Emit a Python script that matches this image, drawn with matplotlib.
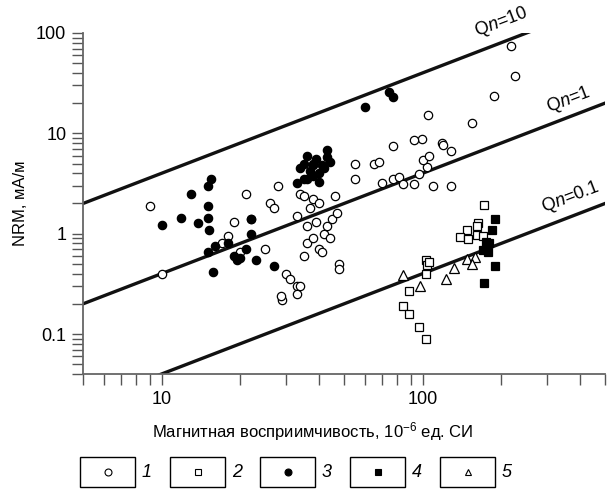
import numpy as np
import matplotlib
matplotlib.use('Agg')
import matplotlib.pyplot as plt
from matplotlib.patches import Rectangle
from matplotlib.ticker import LogLocator, NullFormatter, FixedLocator, FixedFormatter

plt.rcParams['font.family'] = ['Liberation Sans', 'DejaVu Sans']
plt.rcParams['mathtext.fontset'] = 'custom'
plt.rcParams['mathtext.rm'] = 'Liberation Sans'
plt.rcParams['mathtext.it'] = 'Liberation Sans:italic'

# magnetic susceptibility (10^-6 SI) and NRM (mA/m) for each group
k1 = [9.0, 10.0, 17, 18, 19, 20, 21, 22, 25, 26, 27, 28, 29, 30, 31, 33, 33, 34,
      35, 36, 37, 38, 39, 40, 41, 42, 43, 44, 45, 46, 47, 48, 48, 33, 34, 35, 36,
      38, 40, 55, 55, 65, 68, 70, 77, 81, 84, 93, 110, 128, 97, 104, 100, 106,
      128, 119, 120, 99.7, 92.6, 77.3, 155, 105, 188, 226, 219, 28.7]
n1 = [1.9, 0.4, 0.8, 0.95, 1.3, 0.65, 2.5, 1.4, 0.7, 2.0, 1.8, 3.0, 0.22, 0.4,
      0.35, 0.3, 0.25, 0.3, 0.6, 0.8, 1.8, 0.9, 1.3, 0.7, 0.65, 1.0, 1.2, 0.9,
      1.4, 2.4, 1.6, 0.5, 0.45, 1.5, 2.5, 2.4, 1.2, 2.2, 2.0, 5.0, 3.5, 5.0, 5.2,
      3.2, 3.5, 3.7, 3.1, 3.1, 3.0, 3.0, 3.95, 4.6, 5.4, 5.9, 6.7, 8.0, 7.6, 8.7,
      8.6, 7.4, 12.6, 15.3, 23.4, 37.5, 74, 0.24]

k2 = [172, 163, 161, 148, 139, 149, 161, 171, 103, 104, 106, 103, 88.5, 84, 89,
      96.5, 103]
n2 = [1.92, 1.29, 1.19, 1.09, 0.93, 0.88, 0.97, 0.95, 0.55, 0.49, 0.52, 0.40,
      0.27, 0.19, 0.16, 0.118, 0.09]

k3 = [10, 11.9, 13, 13.8, 15, 15.5, 15, 15, 15.2, 15, 15.8, 16, 18, 19, 19.5, 20,
      21, 22, 22, 23, 27, 33, 34, 35, 36, 37, 38, 38, 39, 40, 42, 43, 43, 44, 36,
      40, 35, 38, 41, 60, 74.6, 77]
n3 = [1.22, 1.45, 2.5, 1.27, 3.0, 3.5, 1.9, 1.45, 1.1, 0.65, 0.42, 0.75, 0.8,
      0.6, 0.55, 0.57, 0.7, 1.0, 1.4, 0.55, 0.48, 3.2, 4.5, 5.0, 3.5, 4.2, 4.8,
      3.8, 5.5, 4.0, 4.5, 6.8, 5.8, 5.2, 6.0, 3.3, 3.5, 5.0, 4.8, 18.5, 25.9, 23.1]

k4 = [189, 185, 175, 180, 171, 178, 189, 172]
n4 = [1.39, 1.1, 0.83, 0.80, 0.69, 0.66, 0.48, 0.32]

k5 = [148, 158.5, 154, 131.5, 123, 98, 84.5]
n5 = [0.557, 0.59, 0.50, 0.46, 0.35, 0.30, 0.39]

qn_values = [10, 1, 0.1]
qn_labels = ['Q$\\mathit{n}$=10', 'Q$\\mathit{n}$=1', 'Q$\\mathit{n}$=0.1']
legend_labels = ['1', '2', '3', '4', '5']

fig = plt.figure(figsize=(6.11, 4.9), dpi=100)
ax = fig.add_axes([83 / 611, 1 - 374 / 490, 522 / 611, 341 / 490])

# Qn = NRM / (k * H), H ~ 40 A/m
k_line = np.logspace(np.log10(5), np.log10(500), 50)
for qn in qn_values:
    ax.plot(k_line, qn * 0.04 * k_line, '-', color='#111111', lw=2.4, zorder=2)

ms = 6
mew = 0.9
ax.plot(k1, n1, 'o', ms=ms, mfc='white', mec='black', mew=mew, zorder=3)
ax.plot(k2, n2, 's', ms=ms, mfc='white', mec='black', mew=mew, zorder=3)
ax.plot(k3, n3, 'o', ms=ms, mfc='black', mec='black', mew=mew, zorder=3)
ax.plot(k4, n4, 's', ms=ms, mfc='black', mec='black', mew=mew, zorder=3)
ax.plot(k5, n5, '^', ms=ms + 1, mfc='white', mec='black', mew=mew, zorder=3)

ax.set_xscale('log')
ax.set_yscale('log')
ax.set_xlim(5, 500)
ax.set_ylim(0.04, 100)

ax.xaxis.set_major_locator(FixedLocator([10, 100]))
ax.xaxis.set_major_formatter(FixedFormatter(['10', '100']))
ax.xaxis.set_minor_locator(LogLocator(base=10, subs=np.arange(2, 10)))
ax.xaxis.set_minor_formatter(NullFormatter())
ax.yaxis.set_major_locator(FixedLocator([0.1, 1, 10, 100]))
ax.yaxis.set_major_formatter(FixedFormatter(['0.1', '1', '10', '100']))
ax.yaxis.set_minor_locator(LogLocator(base=10, subs=np.arange(2, 10)))
ax.yaxis.set_minor_formatter(NullFormatter())

for side in ['top', 'right']:
    ax.spines[side].set_visible(False)
for side in ['left', 'bottom']:
    ax.spines[side].set_color('#666666')
    ax.spines[side].set_linewidth(1.3)
ax.tick_params(which='both', direction='out', length=8, width=1.0, color='#555555')
ax.tick_params(which='major', labelsize=13, pad=4)

ax.set_ylabel('NRM, мА/м', fontsize=12, labelpad=6)
fig.text(313 / 611, 1 - 432 / 490, 'Магнитная восприимчивость, 10$^{\\mathregular{-6}}$ ед. СИ',
         ha='center', va='center', fontsize=12)

# line labels
label_pos = [(200, 128), (361, 21.7), (368, 2.32)]
for (lx, ly), lab in zip(label_pos, qn_labels):
    ax.text(lx, ly, lab, rotation=21, ha='center', va='center', fontsize=13,
            clip_on=False)

# legend boxes along the bottom
lax = fig.add_axes([0, 0, 1, 1], facecolor='none')
lax.set_xlim(0, 611)
lax.set_ylim(490, 0)
lax.axis('off')
styles = [('o', 'white'), ('s', 'white'), ('o', 'black'), ('s', 'black'), ('^', 'white')]
for i, ((m, fc), lab) in enumerate(zip(styles, legend_labels)):
    x0 = 80 + i * 90
    lax.add_patch(Rectangle((x0, 457), 55, 30, fill=False, ec='black', lw=1.0))
    lax.plot(x0 + 27.5, 472, m, ms=5, mfc=fc, mec='black', mew=0.8)
    lax.text(x0 + 62, 472, lab, ha='left', va='center', fontsize=13, style='italic')

fig.savefig('out.png', dpi=100)
